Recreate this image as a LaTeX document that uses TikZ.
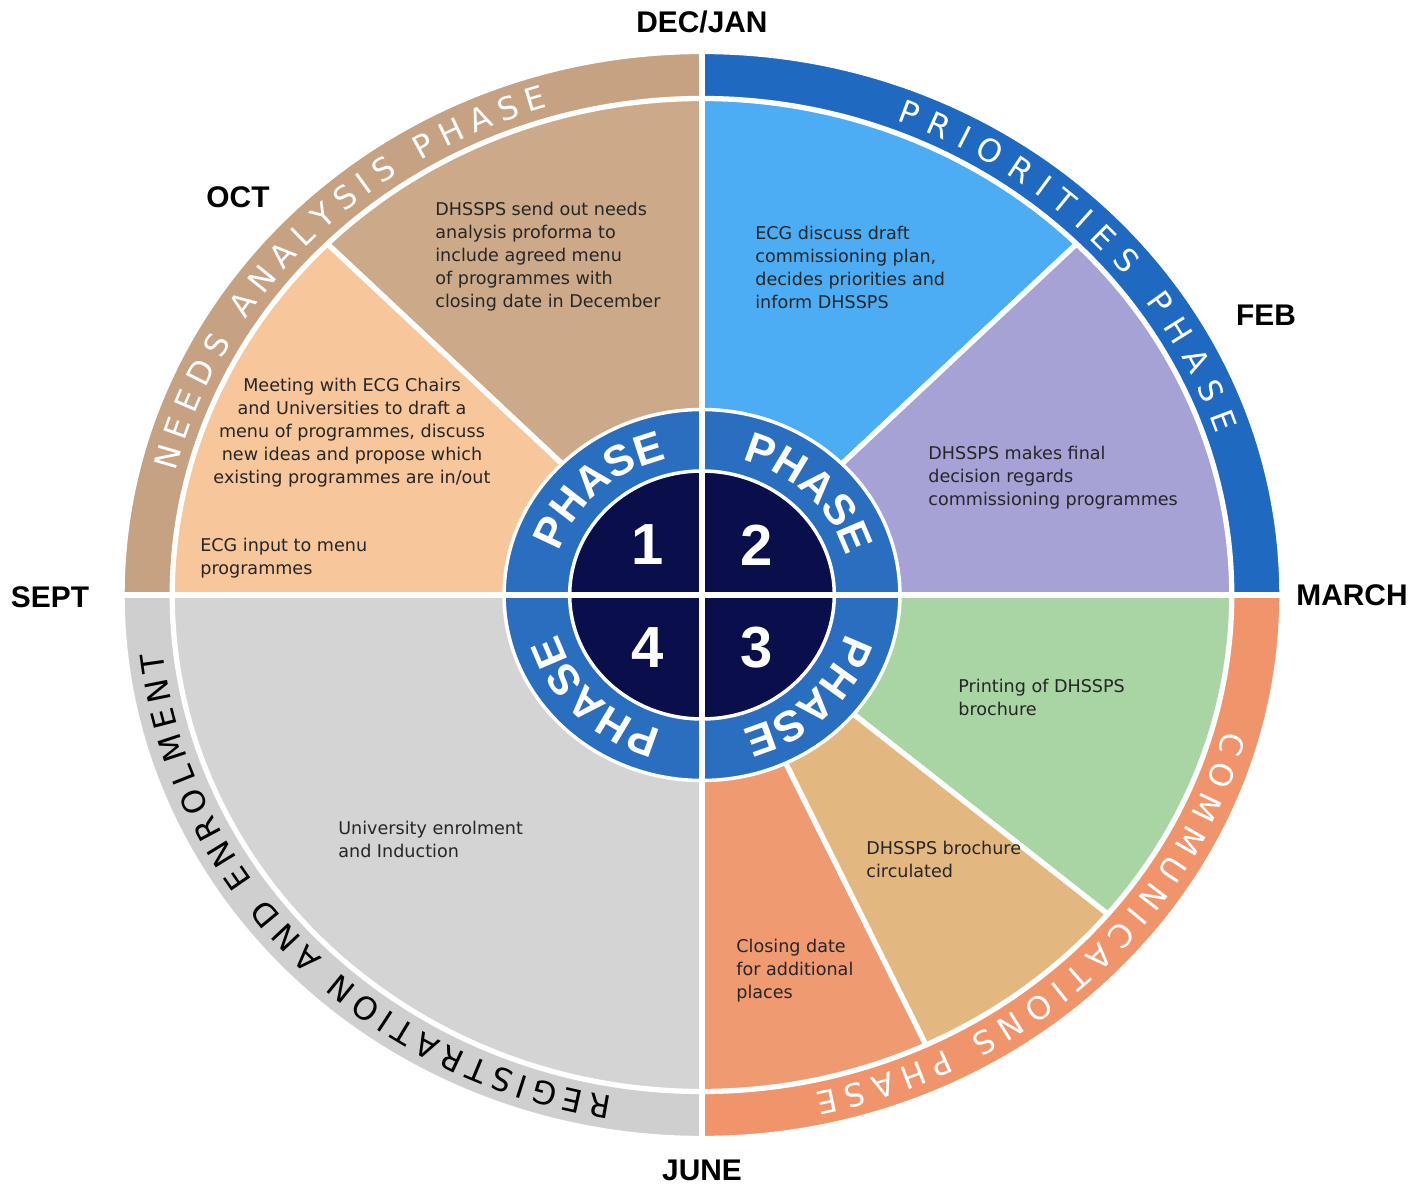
\documentclass[tikz,border=0pt]{standalone}
\usepackage{fontspec}
\setmainfont{DejaVu Sans}
\newfontfamily\headfont{Liberation Sans}
\usetikzlibrary{decorations.text}

\definecolor{needsring}{RGB}{198,162,130}
\definecolor{needsbox}{RGB}{204,170,137}
\definecolor{peach}{RGB}{247,198,154}
\definecolor{priorring}{RGB}{32,105,192}
\definecolor{skyblue}{RGB}{76,172,244}
\definecolor{lavender}{RGB}{166,162,214}
\definecolor{commring}{RGB}{240,148,108}
\definecolor{mint}{RGB}{169,212,163}
\definecolor{ochre}{RGB}{227,184,128}
\definecolor{salmon}{RGB}{240,154,114}
\definecolor{regring}{RGB}{207,207,207}
\definecolor{regbox}{RGB}{212,212,212}
\definecolor{hubblue}{RGB}{42,110,192}
\definecolor{navy}{RGB}{10,15,75}

\newcommand{\ringfont}{\fontsize{18}{18}\selectfont}
\newcommand{\hubfont}{\headfont\bfseries\fontsize{24.5}{24.5}\selectfont}

\begin{document}
\begin{tikzpicture}[
    box/.style={font=\fontsize{10}{13}\selectfont, text=black!85, align=left, anchor=north west, inner sep=0pt},
    month/.style={font=\headfont\bfseries\fontsize{17}{17}\selectfont},
    num/.style={font=\headfont\bfseries\fontsize{33}{33}\selectfont, text=white},
    gap/.style={draw=white, line width=3pt, line join=round}
  ]
    \useasboundingbox (-14.04,-11.8) rectangle (14.16,11.9);

    \begin{scope}[xscale=1.067]
        % outer ring
        \foreach \a/\c in {90/needsring, 0/priorring, -90/commring, 180/regring}
            \path[fill=\c, gap] (0,0) -- (\a:10.87) arc (\a:\a+90:10.87) -- cycle;
        % sectors
        \foreach \a/\b/\c in {90/135/needsbox, 135/180/peach, 45/90/skyblue, 0/45/lavender,
                              -40/0/mint, -65/-40/ochre, -90/-65/salmon, 180/270/regbox}
            \path[fill=\c, gap] (0,0) -- (\a:9.93) arc (\a:\b:9.93) -- cycle;
        % hub
        \path[fill=hubblue, draw=white, line width=2pt] (0,0) circle (3.71);
        \path[fill=navy, draw=white, line width=2pt] (0,0) circle (2.48);
        \draw[white, line width=3pt] (-10.9,0) -- (10.9,0) (0,-10.9) -- (0,10.9);
    \end{scope}

    % ring titles
    \path[decorate, decoration={text along path, text color=white, text align={fit to path},
        text={|\ringfont|NEEDS ANALYSIS PHASE}}]
        (166:10.85 and 10.17) arc[start angle=166, end angle=106.5, x radius=10.85, y radius=10.17];
    \path[decorate, decoration={text along path, text color=white, text align={fit to path},
        text={|\ringfont|PRIORITIES PHASE}}]
        (69:10.85 and 10.17) arc[start angle=69, end angle=18.5, x radius=10.85, y radius=10.17];
    \path[decorate, decoration={text along path, text color=white, text align={fit to path},
        text={|\ringfont|COMMUNICATIONS PHASE}}]
        (-15.5:10.85 and 10.17) arc[start angle=-15.5, end angle=-78, x radius=10.85, y radius=10.17];
    \path[decorate, decoration={text along path, text color=black, text align={fit to path},
        text={|\ringfont|REGISTRATION AND ENROLMENT}}]
        (260.5:10.85 and 10.17) arc[start angle=260.5, end angle=186.5, x radius=10.85, y radius=10.17];

    % hub titles
    \foreach \a in {133,45,-45,-135}
        \path[decorate, decoration={text along path, text color=white, text align=center,
            text={|\hubfont|PHASE}}]
            (\a+35:3.0 and 2.8) arc[start angle=\a+35, end angle=\a-35, x radius=3.0, y radius=2.8];

    \node at (-1.08,1.0) [num] (one) {1};
    \node at (1.1,1.0) [num] (two) {2};
    \node at (1.1,-1.06) [num] (three) {3};
    \node at (-1.08,-1.06) [num] (four) {4};

    % months
    \node at (0,11.46) [month] (decjan) {DEC/JAN};
    \node at (-9.28,7.96) [month] (oct) {OCT};
    \node at (11.28,5.6) [month] (feb) {FEB};
    \node at (-13.04,-0.04) [month] (sept) {SEPT};
    \node at (13.0,0) [month] (march) {MARCH};
    \node at (0,-11.5) [month] (june) {JUNE};

    % sector texts
    \node at (-5.34,7.86) [box] (sendout) {DHSSPS send out needs\\analysis proforma to\\include agreed menu\\of programmes with\\closing date in December};
    \node at (-7.0,4.34) [box, anchor=north, align=center] (meeting) {Meeting with ECG Chairs\\and Universities to draft a\\menu of programmes, discuss\\new ideas and propose which\\existing programmes are in/out};
    \node at (-10.04,1.14) [box] (input) {ECG input to menu\\programmes};
    \node at (1.06,7.38) [box] (discuss) {ECG discuss draft\\commissioning plan,\\decides priorities and\\inform DHSSPS};
    \node at (4.52,2.98) [box] (decision) {DHSSPS makes final\\decision regards\\commissioning programmes};
    \node at (5.12,-1.68) [box] (printing) {Printing of DHSSPS\\brochure};
    \node at (3.28,-4.92) [box] (circulated) {DHSSPS brochure\\circulated};
    \node at (0.68,-6.88) [box] (closing) {Closing date\\for additional\\places};
    \node at (-7.28,-4.52) [box] (enrol) {University enrolment\\and Induction};
\end{tikzpicture}
\end{document}
